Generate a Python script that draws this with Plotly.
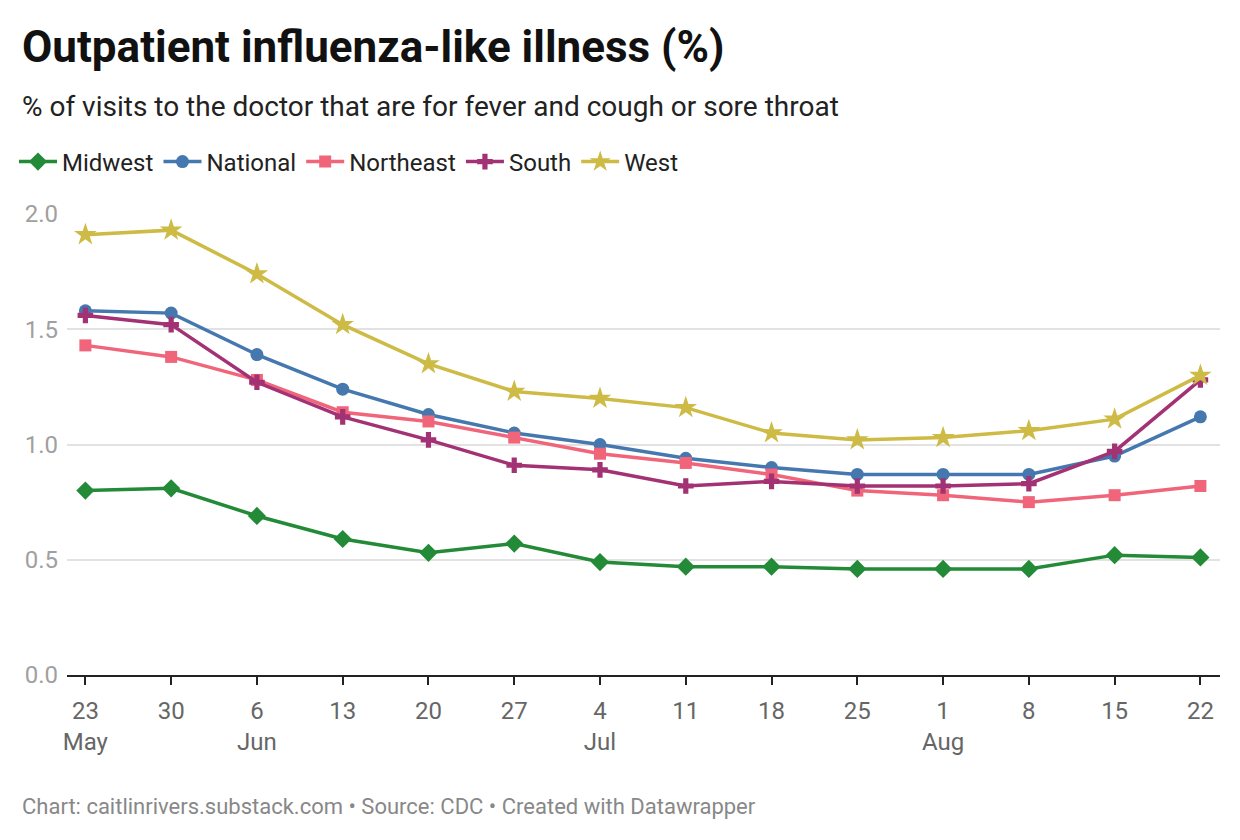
import pandas as pd
import plotly.graph_objects as go

# weekly dates
weeks = pd.date_range("2021-05-23", periods=14, freq="7D")

midwest = [0.80, 0.81, 0.69, 0.59, 0.53, 0.57, 0.49, 0.47, 0.47, 0.46, 0.46, 0.46, 0.52, 0.51]
national = [1.58, 1.57, 1.39, 1.24, 1.13, 1.05, 1.00, 0.94, 0.90, 0.87, 0.87, 0.87, 0.95, 1.12]
northeast = [1.43, 1.38, 1.28, 1.14, 1.10, 1.03, 0.96, 0.92, 0.87, 0.80, 0.78, 0.75, 0.78, 0.82]
south = [1.56, 1.52, 1.27, 1.12, 1.02, 0.91, 0.89, 0.82, 0.84, 0.82, 0.82, 0.83, 0.97, 1.28]
west = [1.91, 1.93, 1.74, 1.52, 1.35, 1.23, 1.20, 1.16, 1.05, 1.02, 1.03, 1.06, 1.11, 1.30]

series = [
    ("Midwest", midwest, "#238a37", "diamond", 14),
    ("National", national, "#4478ae", "circle", 13),
    ("Northeast", northeast, "#f0657a", "square", 12),
    ("South", south, "#a33275", "cross", 13),
    ("West", west, "#cdbb45", "star", 17),
]

# tick labels: day, plus month name under the first tick in each month
tick_text = []
prev_month = None
for d in weeks:
    if d.month != prev_month:
        tick_text.append(f"{d.day}<br>{d.strftime('%b')}")
        prev_month = d.month
    else:
        tick_text.append(str(d.day))

fig = go.Figure()
for name, vals, color, symbol, size in series:
    fig.add_trace(go.Scatter(
        x=weeks, y=vals, name=name, mode="lines+markers",
        line=dict(color=color, width=3.5),
        marker=dict(symbol=symbol, size=size, color=color),
    ))

# the page has an 8px offset, so place everything 8px up/left
off = 8
left, right, top, bottom = 67 - off, 1220 - off, 214 - off, 675 - off
pw, ph = right - left, bottom - top


def px_x(x):
    return (x - off - left) / pw


def px_y(y):
    return (bottom - (y - off)) / ph


font = "Roboto, Arial, sans-serif"
fig.update_layout(
    width=1240, height=840,
    margin=dict(l=left, r=1240 - right, t=top, b=840 - bottom),
    plot_bgcolor="white", paper_bgcolor="white",
    font=dict(family=font, color="#333"),
    showlegend=True,
    legend=dict(
        orientation="h", xref="container", yref="container",
        x=(14 - off) / 1240, y=1 - (162 - off) / 840, xanchor="left", yanchor="middle",
        font=dict(size=24, color="#222"), itemwidth=38,
        traceorder="normal",
    ),
    xaxis=dict(
        range=[weeks[0] - pd.Timedelta(days=1.5), weeks[-1] + pd.Timedelta(days=1.6)],
        tickvals=weeks, ticktext=tick_text,
        ticks="outside", ticklen=8, tickwidth=2, tickcolor="#222",
        showline=True, linecolor="#222", linewidth=2,
        showgrid=False, zeroline=False, ticklabelstandoff=5,
        tickfont=dict(size=24, color="#666"),
    ),
    yaxis=dict(
        range=[0, 2.0], tickvals=[0, 0.5, 1.0, 1.5, 2.0],
        ticktext=["0.0", "0.5", "1.0", "1.5", "2.0"],
        showgrid=True, gridcolor="#e2e2e2", gridwidth=1.5,
        zeroline=False, showline=False, ticks="", ticklabelstandoff=8,
        tickfont=dict(size=24, color="#a0a0a0"),
    ),
    annotations=[
        dict(text="<b>Outpatient influenza-like illness (%)</b>", xref="paper", yref="paper",
             x=px_x(20), y=px_y(47), xanchor="left", yanchor="middle",
             showarrow=False, font=dict(size=44, color="#111", family=font)),
        dict(text="% of visits to the doctor that are for fever and cough or sore throat",
             xref="paper", yref="paper", x=px_x(20), y=px_y(107),
             xanchor="left", yanchor="middle", showarrow=False,
             font=dict(size=28, color="#222", family=font)),
        dict(text="Chart: caitlinrivers.substack.com • Source: CDC • Created with Datawrapper",
             xref="paper", yref="paper", x=px_x(20), y=px_y(806),
             xanchor="left", yanchor="middle", showarrow=False,
             font=dict(size=22, color="#888", family=font)),
    ],
)

fig.write_html("out.html")
